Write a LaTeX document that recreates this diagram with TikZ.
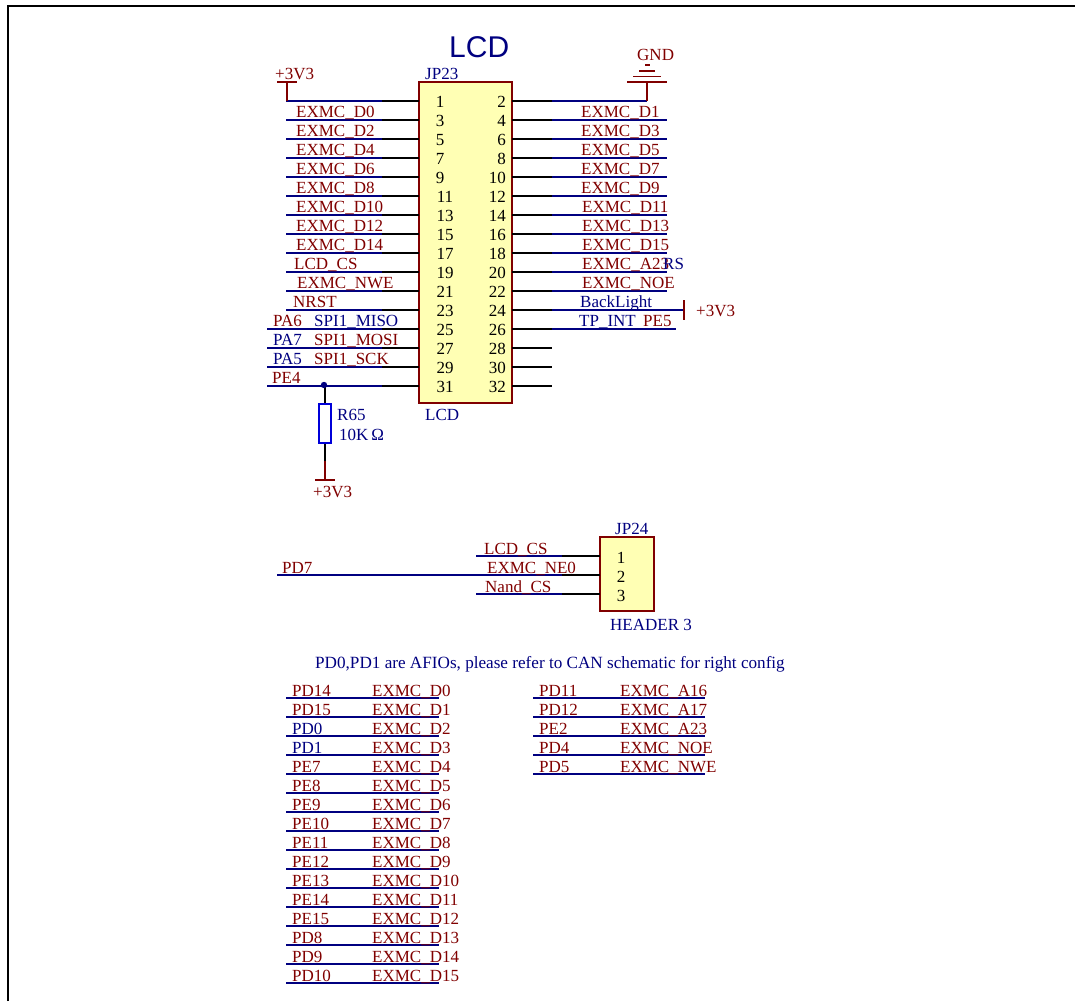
\documentclass[tikz,border=0pt]{standalone}
\usepackage{fontspec}
\setmainfont{Liberation Serif}
\newfontfamily\titlefont{Liberation Sans}
\definecolor{netred}{HTML}{800000}
\definecolor{netblue}{HTML}{000080}
\definecolor{boxfill}{HTML}{FFFFB4}
\usetikzlibrary{positioning}
\tikzset{
  lab/.style={anchor=base west, inner sep=0pt, font=\fontsize{17}{20}\selectfont},
  redlab/.style={lab, text=netred},
  bluelab/.style={lab, text=netblue},
  pinnum/.style={lab, anchor=base, text=black},
  pinnumr/.style={lab, anchor=base east, text=black},
  stub/.style={line width=1.3pt, black},
  wire/.style={line width=1.3pt, netblue},
  pwr/.style={line width=1.3pt, netred},
  header/.style={draw=netred, line width=1.5pt, fill=boxfill, inner sep=0pt},
}
\begin{document}
\begin{tikzpicture}[x=1pt, y=-1pt]
\useasboundingbox (0,0) rectangle (1075,1001);
\draw[line width=1.6pt] (8,1001) -- (8,6) -- (1075,6);

\node[header, minimum width=93pt, minimum height=321pt] (jpa) at (465.5,242.5) {};
\node[lab, text=netblue, font=\titlefont\fontsize{30}{32}\selectfont] (title) at (449,57) {LCD};
\node[bluelab] (jpaname) at (425,79) {JP23};
\node[bluelab] (jpaval) at (425,420) {LCD};

% pins of JP23, two columns of 16
\foreach \r in {0,...,15} {
  \pgfmathtruncatemacro{\y}{101 + 19*\r}
  \pgfmathtruncatemacro{\odd}{2*\r + 1}
  \pgfmathtruncatemacro{\even}{2*\r + 2}
  \pgfmathtruncatemacro{\xl}{\r < 5 ? 440 : 445}
  \pgfmathtruncatemacro{\xw}{\r < 12 ? 286 : 267}
  \coordinate (l\r) at (419,\y);
  \coordinate (lm\r) at (382,\y);
  \coordinate (le\r) at (\xw,\y);
  \coordinate (r\r) at (512,\y);
  \coordinate (rm\r) at (552,\y);
  \node[pinnum] (pl\r) at (\xl,\y+6.5) {\odd};
  \node[pinnumr] (pr\r) at (506,\y+6.5) {\even};
  \draw[stub] (l\r) -- (lm\r);
  \draw[wire] (lm\r) -- (le\r);
  \draw[stub] (r\r) -- (rm\r);
}

% nets on the right
\foreach \r/\xe in {0/647,1/667,2/667,3/667,4/667,5/667,6/667,7/667,8/667,9/667,10/667,11/684,12/676} {
  \pgfmathtruncatemacro{\y}{101 + 19*\r}
  \coordinate (re\r) at (\xe,\y);
  \draw[wire] (rm\r) -- (re\r);
}

\foreach \r/\t/\xt in {1/EXMC\_D0/296,2/EXMC\_D2/296,3/EXMC\_D4/296,4/EXMC\_D6/296,5/EXMC\_D8/296,
    6/EXMC\_D10/296,7/EXMC\_D12/296,8/EXMC\_D14/296,9/LCD\_CS/294,10/EXMC\_NWE/297,11/NRST/293,
    12/PA6/273,13/SPI1\_MOSI/314,14/SPI1\_SCK/314,15/PE4/272} {
  \pgfmathtruncatemacro{\y}{98 + 19*\r}
  \node[redlab] (nl\r) at (\xt,\y) {\t};
}
\node[bluelab] (nmiso) at (314,326) {SPI1\_MISO};
\node[bluelab] (npaa) at (273,345) {PA7};
\node[bluelab] (npab) at (273,364) {PA5};

\foreach \r/\t/\xt in {1/EXMC\_D1/581,2/EXMC\_D3/581,3/EXMC\_D5/581,4/EXMC\_D7/581,5/EXMC\_D9/581,
    6/EXMC\_D11/582,7/EXMC\_D13/582,8/EXMC\_D15/582,9/EXMC\_A23/582,10/EXMC\_NOE/582} {
  \pgfmathtruncatemacro{\y}{98 + 19*\r}
  \node[redlab] (nr\r) at (\xt,\y) {\t};
}
\node[bluelab] (nrs) at (663,269) {RS};
\node[bluelab] (nbl) at (580,307) {BackLight};
\node[bluelab] (ntp) at (579,326) {TP\_INT};
\node[redlab] (ntpe) at (643,326) {PE5};

% power symbols
\coordinate (vcca) at (287,82);
\draw[pwr] (l0 -| vcca) -- (vcca);
\draw[pwr] (277,82) -- (297,82);
\node[redlab] (vccatxt) at (275,79) {+3V3};
\coordinate (gnd) at (647,82);
\draw[pwr] (re0) -- (gnd);
\draw[pwr] (627,82) -- (667,82);
\draw[pwr] (633,76.7) -- (661,76.7);
\draw[pwr] (639,71) -- (655,71);
\draw[pwr] (645,65) -- (650,65);
\node[redlab] (gndtxt) at (637,60) {GND};
\draw[pwr] (684,300) -- (684,320);
\draw[pwr] (re11) -- (684,310);
\node[redlab] (vccbtxt) at (696,316) {+3V3};

% pull-up on PE4
\coordinate (jn) at (324,385);
\node[draw=blue!85!black, line width=1.3pt, fill=white, inner sep=0pt, minimum width=12pt, minimum height=39pt] (rsix) at (325,423.5) {};
\coordinate (rgnd) at (325,461);
\coordinate (vccc) at (325,480);
\draw[stub] (rsix.north |- jn) -- (rsix.north);
\fill[netblue] (jn) circle (3.2pt);
\draw[stub] (rsix.south) -- (rgnd);
\draw[pwr] (rgnd) -- (vccc);
\draw[pwr] (315,480) -- (335,480);
\node[redlab] (vcccttxt) at (313,497) {+3V3};
\node[bluelab] (rname) at (337,420) {R65};
\node[bluelab] (rval) at (339,440) {10K\,Ω};

% JP24
\node[header, minimum width=54pt, minimum height=74pt] (jpb) at (627,574) {};
\node[bluelab] (jpbname) at (615,534) {JP24};
\node[bluelab] (jpbval) at (610,630) {HEADER 3};
\foreach \i/\y/\xw/\t/\xt in {1/556/476/LCD\_CS/484,2/575/277/EXMC\_NE0/487,3/594/476/Nand\_CS/485} {
  \coordinate (b\i) at (600,\y);
  \coordinate (bm\i) at (562,\y);
  \coordinate (be\i) at (\xw,\y);
  \draw[stub] (b\i) -- (bm\i);
  \draw[wire] (bm\i) -- (be\i);
  \node[pinnum] (pb\i) at (621,\y+7) {\i};
  \node[redlab] (nb\i) at (\xt,\y-2) {\t};
}
\node[redlab] (npd) at (282,573) {PD7};

\node[bluelab, font=\fontsize{17.15}{20}\selectfont] (note) at (315,668) {PD0,PD1 are AFIOs, please refer to CAN schematic for right config};

% pin tables
\foreach \r/\p/\xp/\e in {0/PD14/292/D0,1/PD15/292/D1,2/PD0/292/D2,3/PD1/292/D3,4/PE7/292/D4,5/PE8/292/D5,
    6/PE9/292/D6,7/PE10/292/D7,8/PE11/292/D8,9/PE12/292/D9,10/PE13/292/D10,11/PE14/292/D11,
    12/PE15/292/D12,13/PD8/292/D13,14/PD9/292/D14,15/PD10/292/D15} {
  \pgfmathtruncatemacro{\y}{698 + 19*\r}
  \coordinate (ta\r) at (286,\y);
  \coordinate (tb\r) at (439,\y);
  \draw[wire] (ta\r) -- (tb\r);
  \pgfmathtruncatemacro{\c}{(\r == 2 || \r == 3) ? 1 : 0}
  \ifnum\c=1
    \node[bluelab] (tp\r) at (\xp,\y-2) {\p};
  \else
    \node[redlab] (tp\r) at (\xp,\y-2) {\p};
  \fi
  \node[redlab] (te\r) at (372,\y-2) {EXMC\_\e};
}
\foreach \r/\p/\e in {0/PD11/A16,1/PD12/A17,2/PE2/A23,3/PD4/NOE,4/PD5/NWE} {
  \pgfmathtruncatemacro{\y}{698 + 19*\r}
  \coordinate (tc\r) at (533,\y);
  \coordinate (td\r) at (705,\y);
  \draw[wire] (tc\r) -- (td\r);
  \node[redlab] (tq\r) at (539,\y-2) {\p};
  \node[redlab] (tf\r) at (620,\y-2) {EXMC\_\e};
}
\end{tikzpicture}
\end{document}
